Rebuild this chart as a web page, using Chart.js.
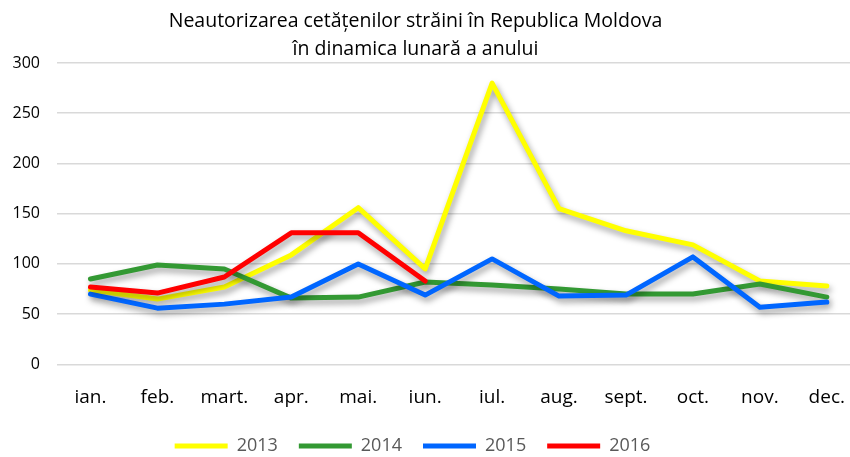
<!DOCTYPE html>
<html>
<head>
<meta charset="utf-8">
<script src="https://cdn.jsdelivr.net/npm/chart.js@4.4.1/dist/chart.umd.min.js"></script>
<style>
  html, body { margin: 0; padding: 0; background: #fff; overflow: hidden; }
  #wrap { width: 867px; height: 457px; position: relative; }
</style>
</head>
<body>
<div id="wrap"><canvas id="chart"></canvas></div>
<script>
// luni
const months = ["ian.", "feb.", "mart.", "apr.", "mai.", "iun.", "iul.", "aug.", "sept.", "oct.", "nov.", "dec."];
const yTicks = [0, 50, 100, 150, 200, 250, 300];

const data2013 = [74, 65, 77, 109, 156, 95, 280, 155, 133, 119, 83, 78];
const data2014 = [85, 99, 95, 66, 67, 82, 79, 75, 70, 70, 80, 67];
const data2015 = [70, 56, 60, 67, 100, 69, 105, 68, 69, 107, 57, 62];
const data2016 = [77, 71, 87, 131, 131, 83];

const titleLines = ["Neautorizarea cetățenilor străini în Republica Moldova", "în dinamica lunară a anului"];

function makeSet(label, values, color, order) {
  return {
    label: label,
    data: values,
    borderColor: color,
    backgroundColor: color,
    borderWidth: 5,
    pointRadius: 0,
    tension: 0,
    order: order,
    borderJoinStyle: "round",
    borderCapStyle: "round"
  };
}

// umbra liniilor (ca in Excel)
const shadowPlugin = {
  id: "lineShadow",
  beforeDatasetDraw(chart) {
    const ctx = chart.ctx;
    ctx.save();
    ctx.shadowColor = "rgba(0,0,0,0.38)";
    ctx.shadowBlur = 6;
    ctx.shadowOffsetX = 2;
    ctx.shadowOffsetY = 4;
  },
  afterDatasetDraw(chart) {
    chart.ctx.restore();
  }
};

// titlul si legenda sunt centrate putin mai la stanga
const shiftPlugin = {
  id: "shiftBoxes",
  afterLayout(chart) {
    if (chart.titleBlock) {
      chart.titleBlock.left -= 18;
      chart.titleBlock.right -= 18;
    }
    if (chart.legend) {
      chart.legend.left -= 21;
      chart.legend.right -= 21;
    }
  }
};

const ctx = document.getElementById("chart").getContext("2d");
const chart = new Chart(ctx, {
  type: "line",
  data: {
    labels: months,
    datasets: [
      makeSet("2013", data2013, "#ffff00", 4),
      makeSet("2014", data2014, "#339933", 3),
      makeSet("2015", data2015, "#0066ff", 2),
      makeSet("2016", data2016, "#ff0000", 1)
    ]
  },
  options: {
    responsive: true,
    maintainAspectRatio: false,
    animation: false,
    layout: { padding: { left: 0, right: 0, top: 0, bottom: -8 } },
    scales: {
      x: {
        offset: true,
        grid: { display: false, drawTicks: false },
        border: { display: false },
        afterFit(scale) {
          scale.height = 51.6;
        },
        ticks: {
          color: "#000",
          padding: 22,
          maxRotation: 0,
          font: { family: "Open Sans", size: 19 }
        }
      },
      y: {
        min: 0,
        max: 300,
        afterBuildTicks(scale) {
          scale.ticks = yTicks.map(v => ({ value: v }));
        },
        afterFit(scale) {
          scale.width = 57;
        },
        grid: { color: "#d9d9d9", lineWidth: 1.5, drawTicks: false },
        border: { display: false },
        ticks: {
          color: "#000",
          padding: 17,
          font: { family: "Open Sans", size: 16 }
        }
      }
    },
    plugins: {
      title: {
        display: true,
        text: titleLines,
        color: "#000",
        font: { family: "Open Sans", size: 19.5, weight: "normal", lineHeight: 1.436 },
        padding: { top: 7, bottom: 0 }
      },
      legend: {
        position: "bottom",
        labels: {
          color: "#595959",
          font: { family: "Open Sans", size: 18 },
          boxWidth: 53,
          boxHeight: 5,
          useBorderRadius: true,
          borderRadius: 2.5,
          padding: 21,
          sort: (a, b) => a.datasetIndex - b.datasetIndex,
          generateLabels(chart) {
            return chart.data.datasets.map((ds, i) => ({
              text: ds.label,
              fillStyle: ds.borderColor,
              strokeStyle: ds.borderColor,
              lineWidth: 0,
              fontColor: "#595959",
              hidden: !chart.isDatasetVisible(i),
              datasetIndex: i
            }));
          }
        }
      },
      tooltip: { enabled: false }
    }
  },
  plugins: [shadowPlugin, shiftPlugin]
});
</script>
</body>
</html>
